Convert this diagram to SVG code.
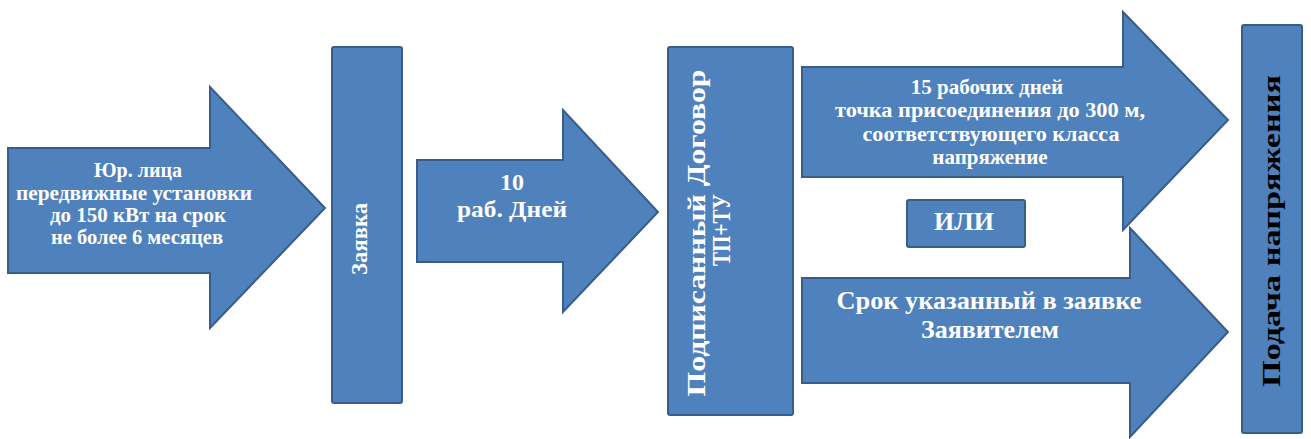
<svg xmlns="http://www.w3.org/2000/svg" width="1311" height="439" viewBox="0 0 1311 439">
<style>
.s{fill:#4F81BD;stroke:#385D8A;stroke-width:2;stroke-linejoin:miter}
.t{font-family:"Liberation Serif","Times New Roman",serif;font-weight:bold;fill:#FFFFFF;text-anchor:middle}
.k{font-family:"Liberation Serif","Times New Roman",serif;font-weight:bold;fill:#000000;text-anchor:middle}
</style>
<rect width="1311" height="439" fill="#FFFFFF"/>
<g id="connectors">
<g id="arrow1">
<polygon class="s" points="8,148 210,148 210,87 325,208 210,328 210,273 8,273"/>
<text class="t" font-size="20"><tspan x="138" y="177">Юр.  лица</tspan><tspan x="134" y="200" textLength="236" lengthAdjust="spacingAndGlyphs">передвижные установки</tspan><tspan x="138" y="222" textLength="176" lengthAdjust="spacingAndGlyphs">до 150 кВт на срок</tspan><tspan x="137" y="244" textLength="172" lengthAdjust="spacingAndGlyphs">не более 6 месяцев</tspan></text>
</g>
<g id="arrow2">
<polygon class="s" points="417,160 563,160 563,110 658,212 563,312 563,262 417,262"/>
<text class="t" font-size="24"><tspan x="512" y="190">10</tspan><tspan x="512" y="217" textLength="110" lengthAdjust="spacingAndGlyphs">раб. Дней</tspan></text>
</g>
<g id="arrow3">
<polygon class="s" points="802,67 1123,67 1123,12 1228,120 1123,230 1123,177 802,177"/>
<text class="t" font-size="21"><tspan x="987" y="94">15 рабочих дней</tspan><tspan x="990" y="117" textLength="310" lengthAdjust="spacingAndGlyphs">точка присоединения до 300 м,</tspan><tspan x="991" y="141" textLength="257" lengthAdjust="spacingAndGlyphs">соответствующего  класса</tspan><tspan x="990" y="164">напряжение</tspan></text>
</g>
<g id="arrow4">
<polygon class="s" points="802,278 1130,278 1130,228 1228,332 1130,437 1130,383 802,383"/>
<text class="t" font-size="26"><tspan x="989" y="309" textLength="305" lengthAdjust="spacingAndGlyphs">Срок указанный в заявке</tspan><tspan x="990" y="338">Заявителем</tspan></text>
</g>
</g>
<g id="zayavka">
<rect class="s" x="332" y="47" width="70" height="356" rx="2"/>
<text class="t" font-size="24" transform="translate(367,239) rotate(-90)" textLength="72" lengthAdjust="spacingAndGlyphs">Заявка</text>
</g>
<g id="dogovor">
<rect class="s" x="668" y="47" width="125" height="368" rx="2"/>
<text class="t" font-size="25" transform="translate(705,233) rotate(-90)"><tspan x="0" y="0" textLength="327" lengthAdjust="spacingAndGlyphs">Подписанный  Договор</tspan><tspan x="3" y="25" textLength="72" lengthAdjust="spacingAndGlyphs">ТП+ТУ</tspan></text>
</g>
<g id="ili">
<rect class="s" x="907" y="200" width="118" height="47" rx="2"/>
<text class="t" font-size="26" x="964" y="230">ИЛИ</text>
</g>
<g id="podacha">
<rect class="s" x="1242" y="25" width="60" height="408" rx="2"/>
<text class="k" font-size="25" transform="translate(1280,231) rotate(-90)" textLength="312" lengthAdjust="spacingAndGlyphs">Подача напряжения</text>
</g>
</svg>
